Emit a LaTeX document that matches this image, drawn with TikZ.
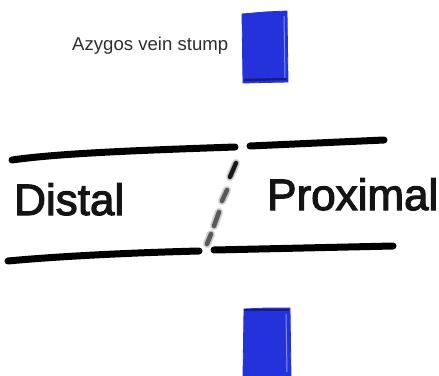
\documentclass[tikz,border=0pt]{standalone}
\usepackage{fontspec}
\setmainfont{Liberation Sans}
\newfontfamily\sidefont{Liberation Sans}[FakeBold=2.6]
\definecolor{stumpblue}{RGB}{36,50,220}
\definecolor{stumpedge}{RGB}{22,28,120}
\definecolor{captiongray}{RGB}{45,45,45}
\begin{document}
\begin{tikzpicture}[x=1pt,y=-1pt,
  vessel/.style={line width=7pt, line cap=round, black},
  cuthaze/.style={line width=8pt, line cap=round, black, opacity=0.2},
  cutcore/.style={line width=4.5pt, line cap=round, black!65},
  stump/.style={fill=stumpblue, draw=stumpblue, line width=0.8pt},
  stumptie/.style={line width=2.5pt, stumpedge, dash pattern=on 3pt off 1.5pt, line cap=round},
  sidelabel/.style={anchor=base west, inner sep=0pt, font=\sidefont\fontsize{44}{46}\selectfont, text=black!92},
  caption/.style={anchor=base west, inner sep=0pt, font=\fontsize{18.6}{20}\selectfont, text=captiongray}]
\useasboundingbox (0,0) rectangle (439,375);

% vessel walls, split at the transection
\coordinate (tl1) at (12,160);  \coordinate (tl2) at (235,147);
\coordinate (tr1) at (250,146); \coordinate (tr2) at (384,140);
\coordinate (bl1) at (8,261);   \coordinate (bl2) at (199,251);
\coordinate (br1) at (214,250); \coordinate (br2) at (393,246);
\draw[vessel] (tl1) .. controls (60,153) and (150,150) .. (tl2);
\draw[vessel] (tr1) -- (tr2);
\draw[vessel] (bl1) .. controls (50,257) and (120,253) .. (bl2);
\draw[vessel] (br1) -- (br2);

% dashed transection line
\coordinate (c1a) at (236,163); \coordinate (c1b) at (230,177);
\coordinate (c2a) at (227,190); \coordinate (c2b) at (222,201);
\coordinate (c3a) at (219,212); \coordinate (c3b) at (214,226);
\coordinate (c4a) at (211,234); \coordinate (c4b) at (207,244);
\foreach \a/\b in {c1a/c1b,c2a/c2b,c3a/c3b,c4a/c4b}{
  \draw[cuthaze] (\a) -- (\b);
}
\draw[cutcore, black!90] (c1a) -- (c1b);
\draw[cutcore] (c2a) -- (c2b);
\draw[cutcore] (c3a) -- (c3b);
\draw[cutcore] (c4a) -- (c4b);

% azygos vein stumps
\draw[stump] (242,14) -- (265,12) -- (287,11) -- (288,82) -- (243,83) -- cycle;
\draw[white, opacity=0.45, line width=1pt] (284,16) -- (285,78);
\draw[stumptie] (245,80) -- (286,79);
\draw[stump] (244,309) -- (266,308) -- (290,308) -- (291,376) -- (243,376) -- cycle;
\draw[white, opacity=0.45, line width=1pt] (286,314) -- (287,372);
\draw[stumptie] (245,310) -- (288,310);

% labels
\node[caption] (azygos) at (72,50) {Azygos vein stump};
\node[sidelabel] (distal) at (14,215) {Distal};
\node[sidelabel] (proximal) at (267,210) {Proximal};
\end{tikzpicture}
\end{document}
